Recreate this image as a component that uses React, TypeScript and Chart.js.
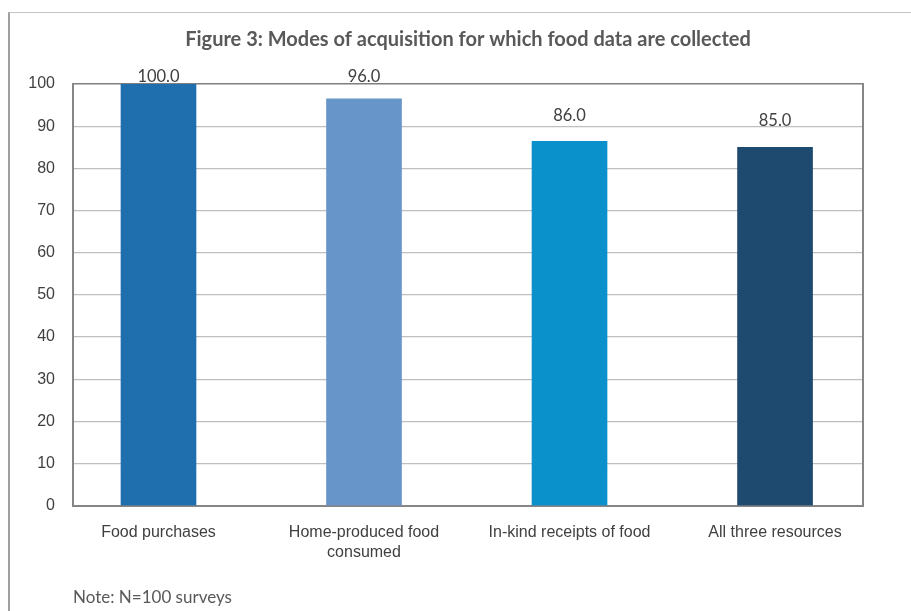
import React, { useEffect, useRef } from "react";
import { Chart, registerables } from "chart.js";

Chart.register(...registerables);

const categories: string[][] = [
  ["Food purchases"],
  ["Home-produced food", "consumed"],
  ["In-kind receipts of food"],
  ["All three resources"],
];
const values: number[] = [100, 96.5, 86.4, 85];
const valueLabels: string[] = ["100.0", "96.0", "86.0", "85.0"];
const barColors: string[] = ["#1F6FAE", "#6795C9", "#0A90CA", "#1E4A6F"];
const yTicks: number[] = [0, 10, 20, 30, 40, 50, 60, 70, 80, 90, 100];
const titleText = "Figure 3: Modes of acquisition for which food data are collected";
const noteText = "Note: N=100 surveys";

const CALIBRI_LIKE = "Lato, 'Open Sans', sans-serif";
const ARIAL_LIKE = "'Liberation Sans', Arial, sans-serif";

const dataLabelPlugin = {
  id: "dataLabels",
  afterDatasetsDraw(chart: any) {
    const ctx = chart.ctx;
    const meta = chart.getDatasetMeta(0);
    const yScale = chart.scales.y;
    ctx.save();
    ctx.font = `16.5px ${CALIBRI_LIKE}`;
    ctx.fillStyle = "#404040";
    ctx.textAlign = "center";
    ctx.textBaseline = "middle";
    meta.data.forEach((bar: any, i: number) => {
      const lbl = valueLabels[i];
      const y = Math.max(
        yScale.getPixelForValue(parseFloat(lbl)) - 27,
        chart.chartArea.top - 7
      );
      ctx.fillText(lbl, bar.x, y);
    });
    ctx.restore();
  },
};

export default function App() {
  const ref = useRef<HTMLCanvasElement | null>(null);
  useEffect(() => {
    if (!ref.current) return;
    const chart = new Chart(ref.current, {
      type: "bar",
      data: {
        datasets: [
          {
            data: values.map((v, i) => ({ x: i, y: v })),
            backgroundColor: barColors,
            barThickness: 75,
            borderWidth: 0,
          },
        ],
      },
      options: {
        animation: false,
        responsive: false,
        devicePixelRatio: 1,
        layout: { padding: { top: 0, left: 8, right: 48, bottom: 3.3 } },
        plugins: {
          legend: { display: false },
          tooltip: { enabled: false },
          title: {
            display: true,
            text: titleText,
            fullSize: false,
            color: "#595959",
            font: { family: CALIBRI_LIKE, size: 20, weight: "bold", lineHeight: 1.2 },
            padding: { top: 28, bottom: 32 },
          },
          subtitle: {
            display: true,
            text: noteText,
            position: "bottom",
            align: "start",
            fullSize: false,
            color: "#595959",
            font: { family: CALIBRI_LIKE, size: 17, weight: "normal", lineHeight: 1.2 },
            padding: { top: 21.5, bottom: 0 },
          },
        },
        scales: {
          x: {
            type: "linear",
            offset: false,
            min: -0.416,
            max: 3.428,
            grid: { display: false, drawTicks: false, offset: false },
            border: { display: true, color: "#868686", width: 2 },
            afterBuildTicks: (scale: any) => {
              scale.ticks = categories.map((_, i) => ({ value: i }));
            },
            afterFit: (scale: any) => {
              scale.height = 60;
            },
            ticks: {
              autoSkip: false,
              maxRotation: 0,
              padding: 17,
              color: "#404040",
              font: { family: ARIAL_LIKE, size: 16, lineHeight: 1.25 },
              callback: (v: any) => categories[Math.round(Number(v))] ?? "",
            },
          },
          y: {
            min: 0,
            max: 100,
            afterBuildTicks: (scale: any) => {
              scale.ticks = yTicks.map((v) => ({ value: v }));
            },
            afterFit: (scale: any) => {
              scale.width = 65;
            },
            grid: {
              drawTicks: false,
              color: (c: any) => (c.tick && c.tick.value === 100 ? "#7f7f7f" : "#bebebe"),
              lineWidth: (c: any) => (c.tick && c.tick.value === 100 ? 1.5 : 1.2),
            },
            border: { display: true, color: "#868686", width: 2 },
            ticks: {
              padding: 18,
              color: "#404040",
              font: { family: ARIAL_LIKE, size: 16 },
            },
          },
          yRight: {
            position: "right",
            min: 0,
            max: 100,
            grid: { display: false, drawTicks: false },
            ticks: { display: false },
            border: { display: true, color: "#868686", width: 2 },
            afterFit: (scale: any) => {
              scale.width = 0;
            },
          },
        },
      },
      plugins: [dataLabelPlugin],
    } as any);
    return () => chart.destroy();
  }, []);

  return (
    <div
      style={{
        position: "fixed",
        left: 0,
        top: 0,
        width: 911,
        height: 611,
        overflow: "hidden",
        background: "#ffffff",
      }}
    >
      <div
        style={{
          position: "absolute",
          left: 8,
          top: 12,
          width: 1000,
          height: 1000,
          borderLeft: "2px solid #a0a0a0",
          borderTop: "1px solid #c4c4c4",
        }}
      />
      <canvas
        ref={ref}
        width={911}
        height={611}
        style={{ position: "absolute", left: 0, top: 0, width: 911, height: 611 }}
      />
    </div>
  );
}
